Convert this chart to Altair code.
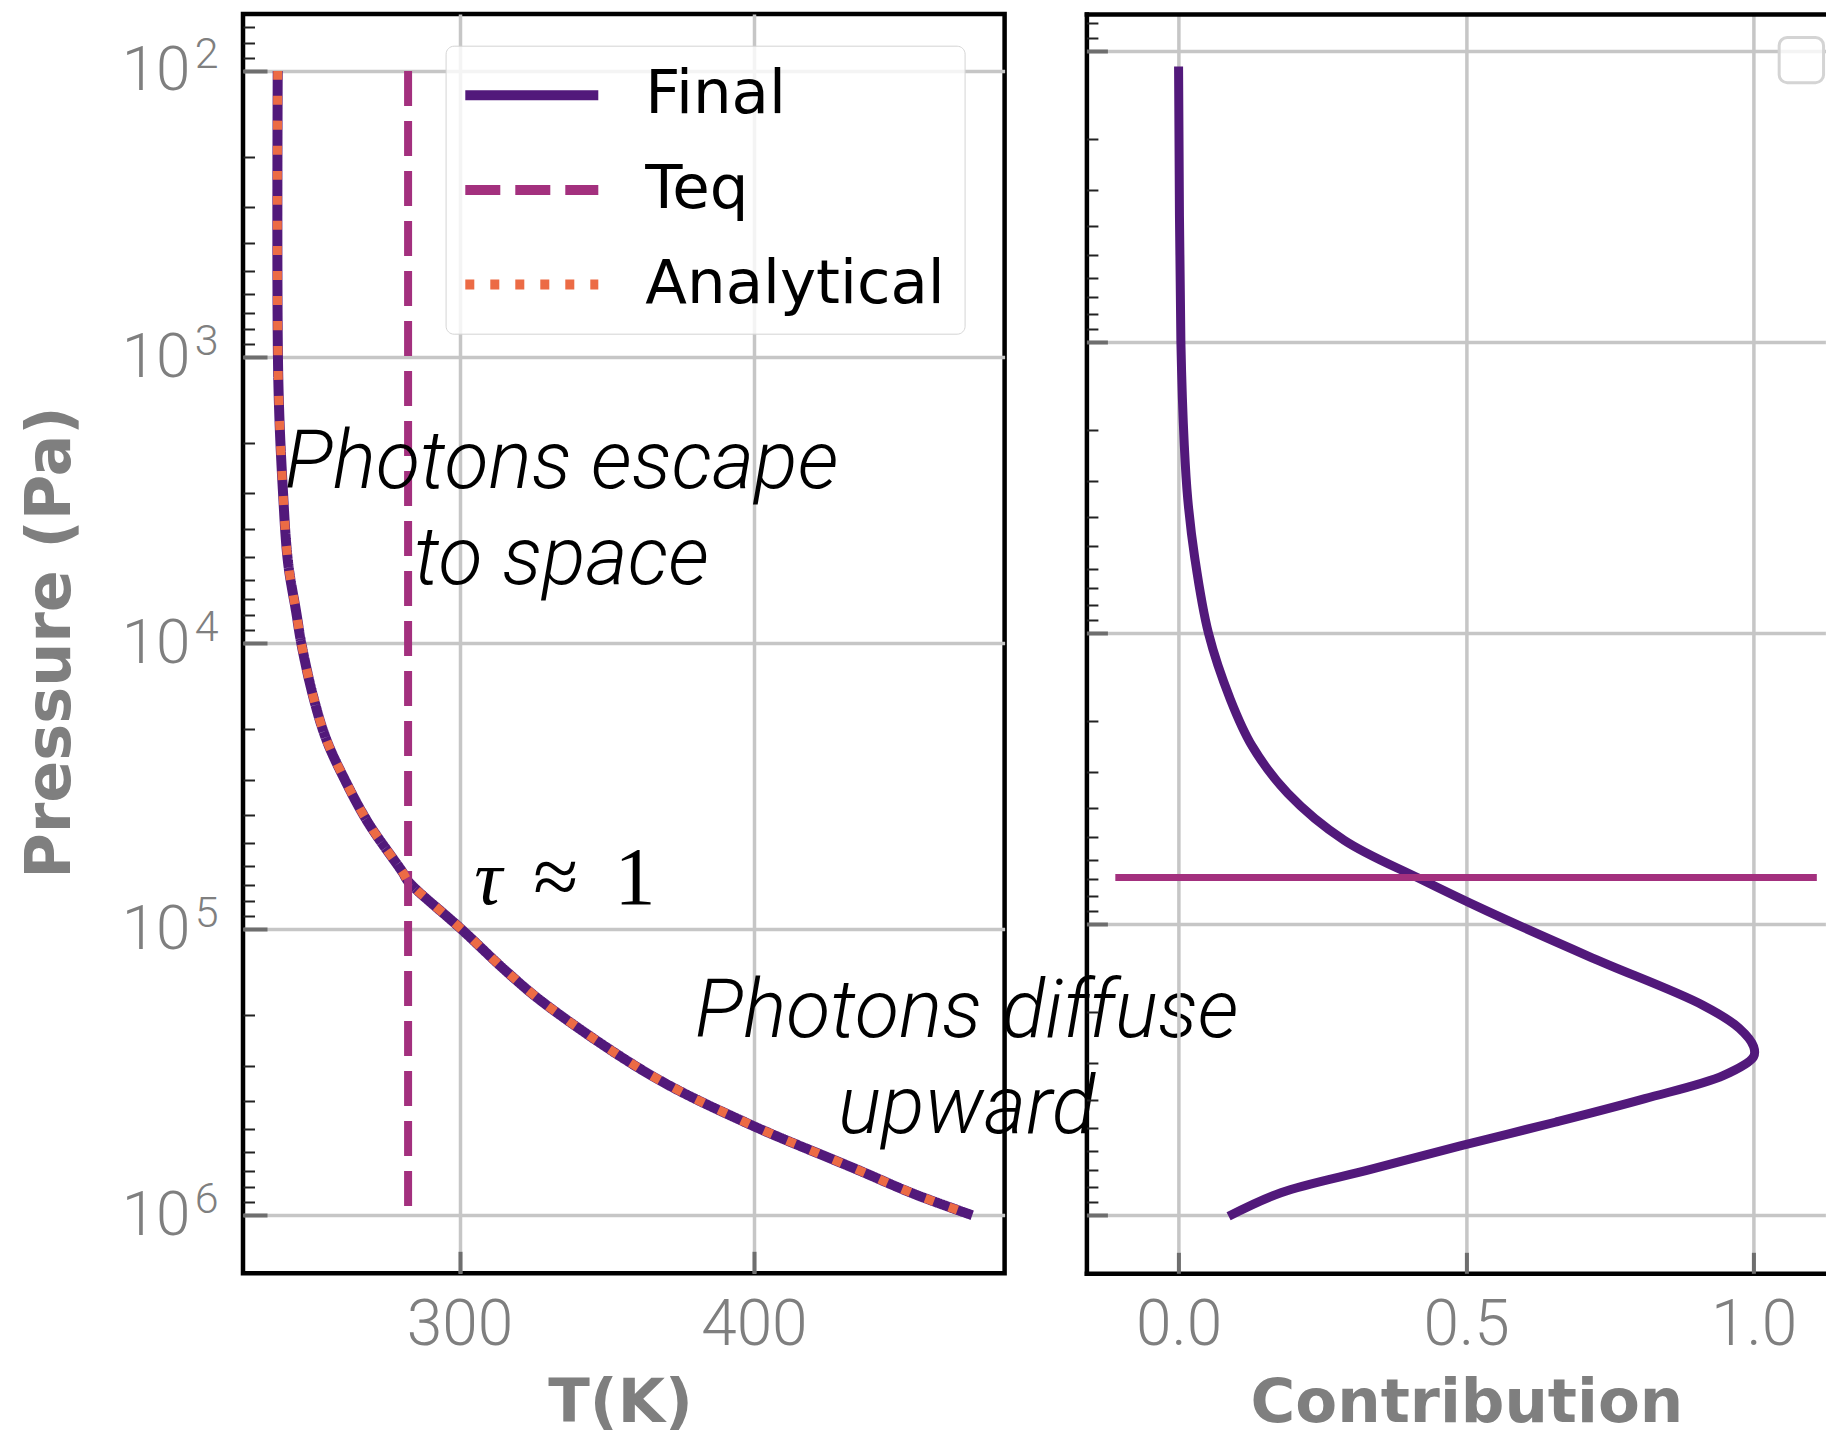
import altair as alt
import pandas as pd

# ------------------------------------------------------------------ data
# Left panel: temperature profiles, T (K) against pressure (Pa)
P_PROFILE = [1.0e2, 1.2e3, 2.98e3, 5.22e3, 7.82e3, 1.0e4, 1.53e4, 2.17e4, 2.99e4, 4.24e4,
             6.34e4, 6.8e4, 1.0e5, 1.42e5, 1.84e5, 3.24e5, 4.73e5, 6.9e5, 8.43e5, 1.0e6]
T_FINAL = [238.2, 238.4, 240.0, 241.7, 244.5, 246.2, 250.2, 254.7, 260.9, 268.9,
           280.7, 282.5, 300.6, 316.4, 329.5, 365.0, 397.0, 434.7, 454.5, 474.2]
T_ANALYTICAL = [238.2, 238.4, 240.0, 241.7, 244.5, 246.2, 250.2, 254.7, 260.9, 268.9,
                280.7, 282.5, 300.6, 316.4, 329.5, 365.0, 397.0, 434.7, 454.5, 474.2]
T_EQ = 282.5
P_TEQ = [1.0e2, 1.0e6]

# Right panel: normalised contribution function against pressure (Pa)
P_CONTRIB = [113, 991, 2270, 3467, 5483, 1.0e4, 16866, 24434, 35481, 51404, 69343, 89950,
             130317, 189234, 227510, 263027, 285102, 330370, 397192, 478630, 576766,
             695024, 835603, 1.007e6]
CONTRIB = [0.0, 0.004, 0.010, 0.016, 0.028, 0.052, 0.090, 0.128, 0.190, 0.288, 0.417, 0.536,
           0.719, 0.911, 0.975, 1.0, 1.0, 0.948, 0.811, 0.655, 0.490, 0.334, 0.178, 0.087]

# tau ~ 1 level drawn across the right panel
P_TAU1 = 6.9e4
C_TAU1 = [-0.11, 1.11]

SERIES = ["Final", "Teq", "Analytical"]
SERIES_COLORS = ["#52197b", "#a3307e", "#ec6b45"]
SERIES_DASHES = [[1, 0], [35, 15], [9, 16]]

T_TICKS = [300, 400]
C_TICKS = [0.0, 0.5, 1.0]
P_DECADES = [1e2, 1e3, 1e4, 1e5, 1e6]
MINOR_DIGITS = [2, 3, 4, 5, 6, 7, 8, 9]
MINOR_EXPONENTS = [1, 2, 3, 4, 5]

ANNOT_TEXT = ["Photons escape\nto space", "Photons diffuse\nupward"]
ANNOT_T = [334.6, 472.3]
ANNOT_P = [2874, 2.39e5]
TAU_SYMBOL = ["τ"]
TAU_REST = ["≈", "1"]
TAU_T = [305.0]
TAU_REST_T = [325.0, 352.6]
TAU_P = 8.14e4

EMPTY_LEGEND_C = [1.0445, 1.1217]
EMPTY_LEGEND_P = [89.9, 128.4]

# ------------------------------------------------------------------ scales / styles
L_T_DOMAIN = [226.4, 485.2]
L_P_DOMAIN = [63.24, 1.596e6]
R_C_DOMAIN = [-0.1603, 1.1249]
R_P_DOMAIN = [74.6, 1.581e6]

LW, LH = 761.6, 1259.3
RW, RH = 739, 1259.3

GRID = "#c6c6c6"
GRIDW = 3.5
BORDER = 4.5
LABEL_FONT = dict(labelFont="Roboto", labelFontWeight=300, labelColor="#7f7f7f")
TITLE_FONT = dict(titleFont="DejaVu Sans", titleFontWeight="bold", titleColor="#7f7f7f")

EXP_LABEL_EXPR = "format(round(log(datum.value) / LN10), 'd')"

lxs = alt.Scale(domain=L_T_DOMAIN, nice=False, zero=False)
lys = alt.Scale(type="log", domain=L_P_DOMAIN, reverse=True, nice=False)
rxs = alt.Scale(domain=R_C_DOMAIN, nice=False, zero=False)
rys = alt.Scale(type="log", domain=R_P_DOMAIN, reverse=True, nice=False)


def minor_values(domain):
    return [d * 10 ** e for e in MINOR_EXPONENTS for d in MINOR_DIGITS
            if domain[0] <= d * 10 ** e <= domain[1]]


def tick_axis(orient, values, size, color, width):
    return alt.Axis(orient=orient, values=values, offset=-size, tickSize=size, ticks=True,
                    tickColor=color, tickWidth=width, labels=False, domain=False,
                    grid=False, title=None)


# ------------------------------------------------------------------ left panel
prof = pd.DataFrame({
    "P": P_PROFILE + P_PROFILE + P_TEQ,
    "T": T_FINAL + T_ANALYTICAL + [T_EQ, T_EQ],
    "series": ["Final"] * len(P_PROFILE) + ["Analytical"] * len(P_PROFILE) + ["Teq"] * 2,
    "i": list(range(len(P_PROFILE))) * 2 + [0, 1],
})

legend = alt.Legend(
    title=None, orient="none", legendX=202.6, legendY=31.7, direction="vertical",
    symbolType="M-4,0H4", symbolSize=1105.6, symbolStrokeWidth=10, symbolOffset=36.7,
    labelFont="DejaVu Sans", labelFontSize=61, labelColor="black", labelLimit=1000,
    labelOffset=83, rowPadding=32.7, padding=19,
    fillColor="rgba(255,255,255,0.8)", strokeColor="#d4d4d4", cornerRadius=8,
)
color = alt.Color("series:N", scale=alt.Scale(domain=SERIES, range=SERIES_COLORS), legend=legend)
dash = alt.StrokeDash("series:N", scale=alt.Scale(domain=SERIES, range=SERIES_DASHES), legend=legend)

x_main = alt.X("T:Q", scale=lxs, axis=alt.Axis(
    orient="bottom", values=T_TICKS, format="d", grid=True, gridColor=GRID, gridWidth=GRIDW,
    ticks=False, tickSize=0, domain=False, labelPadding=20, labelFontSize=64, title="T(K)",
    titleX=377, titleY=148, titleBaseline="alphabetic", titleFontSize=61,
    **LABEL_FONT, **TITLE_FONT))
y_main = alt.Y("P:Q", scale=lys, axis=alt.Axis(
    orient="left", values=P_DECADES, labelExpr="'10'", grid=True, gridColor=GRID,
    gridWidth=GRIDW, ticks=False, tickSize=0, domain=False, labelPadding=53,
    labelFontSize=62, labelBaseline="middle", title="Pressure (Pa)", titleX=-174, titleY=628,
    titleAngle=270, titleBaseline="alphabetic", titleAlign="center", titleFontSize=62,
    **LABEL_FONT, **TITLE_FONT))

base_l = alt.Chart(prof)
final_line = base_l.transform_filter("datum.series == 'Final'").mark_line(
    strokeWidth=10, interpolate="catmull-rom").encode(
    x=x_main, y=y_main, color=color, strokeDash=dash, order="i:Q")
teq_line = base_l.transform_filter("datum.series == 'Teq'").mark_line(strokeWidth=8).encode(
    x=alt.X("T:Q", scale=lxs, axis=None), y=alt.Y("P:Q", scale=lys, axis=None),
    color=color, strokeDash=dash, order="i:Q")
ana_line = base_l.transform_filter("datum.series == 'Analytical'").mark_line(
    strokeWidth=9, interpolate="catmull-rom").encode(
    x=alt.X("T:Q", scale=lxs, axis=None), y=alt.Y("P:Q", scale=lys, axis=None),
    color=color, strokeDash=dash, order="i:Q")

# exponent labels of the pressure axis (superscripts)
l_exp = base_l.mark_line(strokeOpacity=0).encode(
    x=alt.X("T:Q", scale=lxs, axis=None),
    y=alt.Y("P:Q", scale=lys, axis=alt.Axis(
        orient="left", values=P_DECADES, labelExpr=EXP_LABEL_EXPR, labelFontSize=43,
        labelPadding=25, labelOffset=-16, labelBaseline="middle", ticks=False, tickSize=0,
        domain=False, grid=False, title=None, **LABEL_FONT)))
l_major = base_l.mark_line(strokeOpacity=0).encode(
    x=alt.X("T:Q", scale=lxs, axis=tick_axis("bottom", T_TICKS, 22, "#6e6e6e", 4)),
    y=alt.Y("P:Q", scale=lys, axis=tick_axis("left", P_DECADES, 24, "#6e6e6e", 4)))
l_minor = base_l.mark_line(strokeOpacity=0).encode(
    x=alt.X("T:Q", scale=lxs, axis=None),
    y=alt.Y("P:Q", scale=lys, axis=tick_axis("left", minor_values(L_P_DOMAIN), 11.5, "#222222", 2)))

annot = alt.Chart(pd.DataFrame({"text": ANNOT_TEXT, "T": ANNOT_T, "P": ANNOT_P})).mark_text(
    lineBreak="\n", align="center", baseline="alphabetic", font="Roboto", fontStyle="italic",
    fontWeight=300, fontSize=81, lineHeight=96, color="black").encode(
    x=alt.X("T:Q", scale=lxs, axis=None), y=alt.Y("P:Q", scale=lys, axis=None), text="text:N")
tau_sym = alt.Chart(pd.DataFrame({"text": TAU_SYMBOL, "T": TAU_T, "P": [TAU_P]})).mark_text(
    align="left", baseline="alphabetic", font="Liberation Serif", fontStyle="italic",
    fontSize=78, color="black").encode(
    x=alt.X("T:Q", scale=lxs, axis=None), y=alt.Y("P:Q", scale=lys, axis=None), text="text:N")
tau_rest = alt.Chart(pd.DataFrame({"text": TAU_REST, "T": TAU_REST_T, "P": [TAU_P, TAU_P]})).mark_text(
    align="left", baseline="alphabetic", font="Liberation Serif",
    fontSize=82, color="black").encode(
    x=alt.X("T:Q", scale=lxs, axis=None), y=alt.Y("P:Q", scale=lys, axis=None), text="text:N")

left = alt.layer(final_line, teq_line, ana_line, l_exp, l_major, l_minor, annot, tau_sym,
                 tau_rest).resolve_axis(x="independent", y="independent").properties(
    width=LW, height=LH, view=alt.ViewBackground(stroke="black", strokeWidth=BORDER))

# ------------------------------------------------------------------ right panel
contrib = pd.DataFrame({"P": P_CONTRIB, "C": CONTRIB, "i": list(range(len(P_CONTRIB)))})
base_r = alt.Chart(contrib)

c_line = base_r.mark_line(strokeWidth=9, color="#52197b", interpolate="catmull-rom").encode(
    x=alt.X("C:Q", scale=rxs, axis=alt.Axis(
        orient="bottom", values=C_TICKS, format=".1f", grid=True, gridColor=GRID, gridWidth=GRIDW,
        ticks=False, tickSize=0, domain=True, domainColor="black", domainWidth=BORDER,
        domainCap="square", labelPadding=20, labelFontSize=64, title="Contribution",
        titleX=380, titleY=148, titleBaseline="alphabetic", titleFontSize=61,
        **LABEL_FONT, **TITLE_FONT)),
    y=alt.Y("P:Q", scale=rys, axis=alt.Axis(
        orient="left", values=P_DECADES, grid=True, gridColor=GRID, gridWidth=GRIDW,
        ticks=False, tickSize=0, labels=False, domain=True, domainColor="black",
        domainWidth=BORDER, domainCap="square", title=None)),
    order="i:Q")

tau_df = pd.DataFrame({"c1": [C_TAU1[0]], "c2": [C_TAU1[1]], "P": [P_TAU1]})
tau_rule = alt.Chart(tau_df).mark_rule(color="#a3307e", strokeWidth=7).encode(
    x=alt.X("c1:Q", scale=rxs, axis=alt.Axis(
        orient="top", domain=True, domainColor="black", domainWidth=BORDER, domainCap="square",
        labels=False, ticks=False, grid=False, title=None)),
    x2="c2:Q",
    y=alt.Y("P:Q", scale=rys, axis=None))

r_major = base_r.mark_line(strokeOpacity=0).encode(
    x=alt.X("C:Q", scale=rxs, axis=tick_axis("bottom", C_TICKS, 21, "#6e6e6e", 4)),
    y=alt.Y("P:Q", scale=rys, axis=tick_axis("left", P_DECADES, 21, "#6e6e6e", 4)),
    order="i:Q")
r_minor = base_r.mark_line(strokeOpacity=0).encode(
    x=alt.X("C:Q", scale=rxs, axis=None),
    y=alt.Y("P:Q", scale=rys, axis=tick_axis("left", minor_values(R_P_DOMAIN), 11.5, "#222222", 2)),
    order="i:Q")

empty_leg = alt.Chart(pd.DataFrame({"c1": [EMPTY_LEGEND_C[0]], "c2": [EMPTY_LEGEND_C[1]],
                                    "p1": [EMPTY_LEGEND_P[0]], "p2": [EMPTY_LEGEND_P[1]]})).mark_rect(
    fill="white", fillOpacity=0.8, stroke="#d4d4d4", strokeWidth=3, cornerRadius=8).encode(
    x=alt.X("c1:Q", scale=rxs, axis=None), x2="c2:Q",
    y=alt.Y("p1:Q", scale=rys, axis=None), y2="p2:Q")

right = alt.layer(c_line, tau_rule, r_major, r_minor, empty_leg).resolve_axis(
    x="independent", y="independent").properties(width=RW, height=RH)

chart = alt.hconcat(left, right, spacing=81.4, bounds="flush").properties(
    padding={"left": 16, "top": 11, "right": 0, "bottom": 0}, background="white"
).configure_view(stroke=None)

chart.save("out.html", embed_options={"renderer": "svg", "actions": False})
